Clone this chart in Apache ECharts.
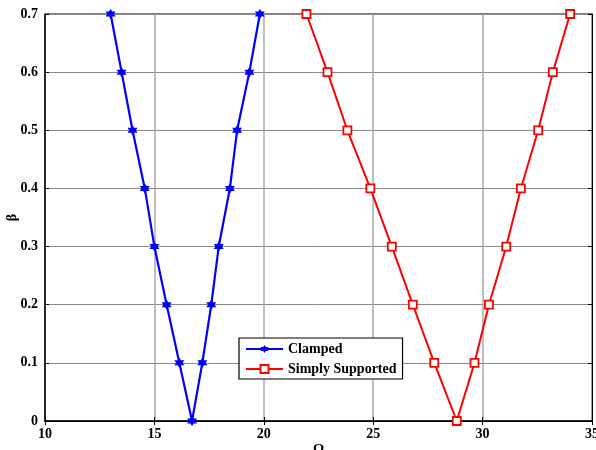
<!DOCTYPE html>
<html><head><meta charset="utf-8">
<script src="https://cdn.jsdelivr.net/npm/echarts@6/dist/echarts.min.js"></script>
<style>html,body{margin:0;padding:0;background:#fff}#c{width:596px;height:450px}</style>
</head><body><div id="c"></div>
<script>
const betaValues = [0.7,0.6,0.5,0.4,0.3,0.2,0.1,0,0.1,0.2,0.3,0.4,0.5,0.6,0.7];
const clampedOmega = [13.0,13.5,14.0,14.56,15.0,15.56,16.14,16.72,17.19,17.6,17.94,18.45,18.78,19.34,19.82];
const simplyOmega = [21.95,22.91,23.82,24.87,25.85,26.81,27.79,28.82,29.63,30.29,31.08,31.75,32.54,33.21,34.0];
const seriesNames = ['Clamped','Simply Supported'];
const xTicks = [10,15,20,25,30,35];
const yTicks = [0,0.1,0.2,0.3,0.4,0.5,0.6,0.7];

const star = 'path://M0,-10 L2.89,-5 L8.66,-5 L5.77,0 L8.66,5 L2.89,5 L0,10 L-2.89,5 L-8.66,5 L-5.77,0 L-8.66,-5 L-2.89,-5 Z';
const font = {fontFamily:'Liberation Serif', fontWeight:'bold', fontSize:14, color:'#000'};

const chart = echarts.init(document.getElementById('c'));
chart.setOption({
  animation:false,
  backgroundColor:'#fff',
  grid:{left:45,right:4,top:14,bottom:29,containLabel:false,outerBoundsMode:'none',show:true,borderColor:'#000',borderWidth:1,backgroundColor:'transparent'},
  legend:{
    data:seriesNames, orient:'vertical', left:239, top:338,
    backgroundColor:'#fff', borderColor:'#000', borderWidth:1.2, padding:[4,6,3,6],
    itemWidth:37, itemHeight:10, itemGap:6,
    textStyle:{fontFamily:'Liberation Serif', fontWeight:'bold', fontSize:14, color:'#000'}
  },
  xAxis:[{
    type:'value', min:xTicks[0], max:xTicks[xTicks.length-1], interval:5,
    name:'Ω', nameLocation:'middle', nameGap:22, nameMoveOverlap:false, nameTextStyle:font,
    axisLine:{lineStyle:{color:'#000',width:1.5}},
    axisTick:{inside:true,length:4,lineStyle:{color:'#000'}},
    axisLabel:Object.assign({margin:6}, font),
    splitLine:{show:true,lineStyle:{color:'#aaa',width:1.5}}
  },{
    type:'value', position:'top', min:xTicks[0], max:xTicks[xTicks.length-1], interval:5,
    axisLine:{show:true,lineStyle:{color:'#000',width:1}},
    axisTick:{inside:true,length:4,lineStyle:{color:'#000'}},
    axisLabel:{show:false}, splitLine:{show:false}
  }],
  yAxis:[{
    type:'value', min:yTicks[0], max:yTicks[yTicks.length-1], interval:0.1,
    name:'β', nameLocation:'middle', nameGap:26, nameRotate:90, nameMoveOverlap:false, nameTextStyle:font,
    axisLine:{lineStyle:{color:'#000',width:1.5}},
    axisTick:{inside:true,length:4,lineStyle:{color:'#000'}},
    axisLabel:Object.assign({margin:7, formatter:v=>v===0?'0':v.toFixed(1)}, font),
    splitLine:{show:true,lineStyle:{color:'#888',width:1}}
  },{
    type:'value', position:'right', min:yTicks[0], max:yTicks[yTicks.length-1], interval:0.1,
    axisLine:{show:true,lineStyle:{color:'#000',width:1}},
    axisTick:{inside:true,length:4,lineStyle:{color:'#000'}},
    axisLabel:{show:false}, splitLine:{show:false}
  }],
  series:[{
    name:seriesNames[0], type:'line', xAxisIndex:0, yAxisIndex:0,
    data:clampedOmega.map((x,i)=>[x,betaValues[i]]),
    symbol:star, symbolSize:10, color:'#0000ff',
    lineStyle:{color:'#0000ff',width:2.2}, itemStyle:{color:'#0000ff'}
  },{
    name:seriesNames[1], type:'line', xAxisIndex:0, yAxisIndex:0,
    data:simplyOmega.map((x,i)=>[x,betaValues[i]]),
    symbol:'rect', symbolSize:8, color:'#ff0000',
    lineStyle:{color:'#ff0000',width:2},
    itemStyle:{color:'#fff',borderColor:'#ff0000',borderWidth:1.8}
  }]
});
</script></body></html>
